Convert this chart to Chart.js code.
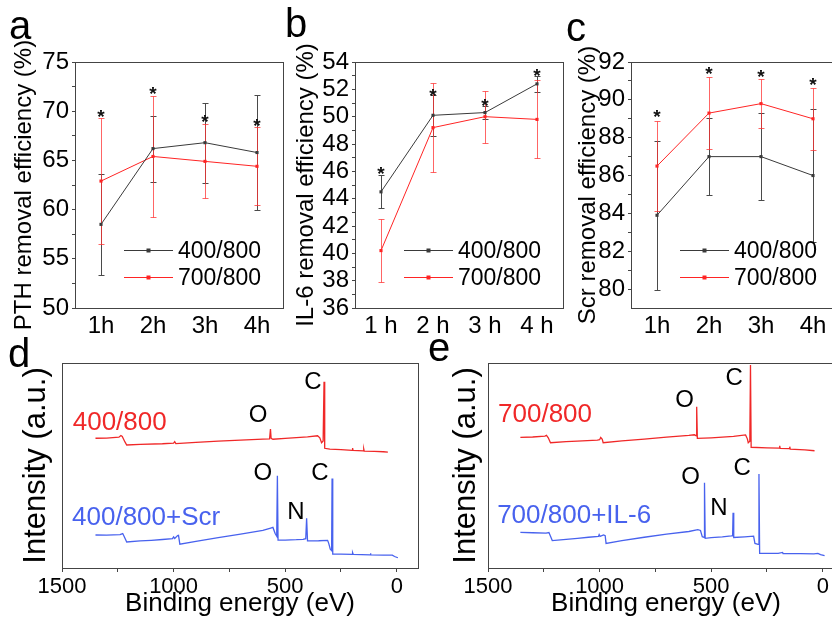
<!DOCTYPE html>
<html>
<head>
<meta charset="utf-8">
<script src="https://cdn.jsdelivr.net/npm/chart.js@4.4.0/dist/chart.umd.min.js"></script>
<style>
    html, body { margin: 0; padding: 0; background: #fff; overflow: hidden; }
    body { width: 832px; height: 619px; position: relative; font-family: 'Liberation Sans', Arial, sans-serif; }
    canvas { position: absolute; }
    .tag { position: absolute; font-size: 40px; line-height: 1; color: #000; }
</style>
</head>
<body>
<canvas id="chartA" width="290" height="340" style="left:0;top:0"></canvas>
<canvas id="chartB" width="290" height="340" style="left:280px;top:0"></canvas>
<canvas id="chartC" width="290" height="340" style="left:556px;top:0"></canvas>
<canvas id="chartD" width="420" height="289" style="left:0;top:330px"></canvas>
<canvas id="chartE" width="430" height="289" style="left:420px;top:330px"></canvas>
<div class="tag" style="left:9px;top:5px">a</div>
<div class="tag" style="left:285px;top:3px">b</div>
<div class="tag" style="left:566px;top:7px">c</div>
<div class="tag" style="left:8px;top:333px">d</div>
<div class="tag" style="left:428px;top:327px">e</div>
<script>
// --- datos de los paneles a-c ---
const hours = ['1h', '2h', '3h', '4h'];
const hoursSpaced = ['1 h', '2 h', '3 h', '4 h'];
const seriesNames = ['400/800', '700/800'];

const pth400 = [58.5, 66.2, 66.8, 65.8];
const pth400Err = [5.1, 3.35, 4.05, 5.85];
const pth700 = [62.9, 65.4, 64.9, 64.4];
const pth700Err = [6.4, 6.15, 3.75, 3.95];
const pthStars = [69.8, 72.2, 69.3, 68.9];
const pthTicks = [50, 55, 60, 65, 70, 75];

const il6400 = [44.5, 50.1, 50.3, 52.4];
const il6400Err = [1.2, 1.5, 0.5, 0.6];
const il6700 = [40.2, 49.2, 50.0, 49.8];
const il6700Err = [2.3, 3.25, 1.9, 2.85];
const il6Stars = [46.1, 51.8, 51.1, 53.3];
const il6Ticks = [36, 38, 40, 42, 44, 46, 48, 50, 52, 54];

const scr400 = [83.9, 87.0, 87.0, 86.0];
const scr400Err = [3.95, 2.05, 2.3, 3.5];
const scr700 = [86.5, 89.3, 89.8, 89.0];
const scr700Err = [2.4, 1.9, 1.3, 1.65];
const scrStars = [89.3, 91.6, 91.4, 91.0];
const scrTicks = [80, 82, 84, 86, 88, 90, 92];

// --- espectros XPS (energía de enlace eV, intensidad u.a.) ---
const d400 = [[1350,63.3],[1300,63.4],[1245,63.8],[1236,64.6],[1230,64.2],[1218,61.5],[1210,60.0],[1150,60.3],[1050,60.6],
    [1000,60.9],[995,61.6],[990,60.7],[900,61.3],[800,61.9],[700,62.4],[600,62.9],[570,63.0],[566,67.8],[563,63.2],[555,62.8],
    [500,63.2],[450,63.6],[400,64.0],[355,64.5],[345,63.5],[337,61.1],[330,62.0],[326,90.9],[323,58.4],[300,58.0],[250,57.7],
    [200,57.4],[198,58.5],[196,57.4],[150,57.1],[148,58.0],[146,57.0],[100,56.9],[60,56.7],[40,56.5]];
const d400Scr = [[1350,16.1],[1300,16.0],[1240,16.3],[1228,16.8],[1222,15.5],[1210,12.7],[1150,13.2],[1100,13.5],[1050,13.9],
    [1005,14.3],[1000,15.2],[995,14.4],[982,15.8],[978,15.9],[972,11.6],[900,13.0],[800,14.8],[700,16.5],[600,18.3],[565,19.5],
    [555,19.8],[545,16.8],[538,15.5],[535,45.0],[532,13.6],[500,13.6],[450,13.8],[420,14.0],[408,14.3],[404,24.2],[400,13.2],
    [350,13.3],[310,13.5],[305,12.0],[298,9.2],[292,8.5],[290,43.7],[287,6.8],[250,6.8],[200,6.6],[198,7.5],[195,6.6],[120,6.4],
    [118,7.2],[116,6.4],[60,6.3],[20,6.3],[10,5.6],[-5,5.0]];
const e700 = [[1355,63.7],[1300,63.9],[1245,64.3],[1238,64.7],[1230,63.5],[1220,61.1],[1150,61.6],[1100,61.9],[1010,62.4],
    [1000,62.6],[995,63.7],[988,62.8],[984,61.1],[900,62.0],[800,62.9],[700,63.8],[600,64.7],[575,65.0],[567,64.5],[565,78.7],
    [562,63.2],[500,63.5],[450,63.8],[400,64.2],[346,64.9],[338,63.0],[334,61.1],[327,61.8],[324,99.0],[321,58.9],[250,58.6],
    [195,58.5],[193,59.6],[191,58.4],[150,58.2],[148,59.2],[146,58.0],[80,57.6],[37,57.2]];
const e700IL6 = [[1355,17.4],[1300,17.2],[1240,17.0],[1227,17.3],[1220,15.5],[1212,13.4],[1150,14.0],[1099,14.5],[1050,15.0],
    [1005,15.4],[1002,16.3],[998,15.4],[982,16.1],[975,15.8],[971,12.0],[900,13.4],[800,15.0],[700,16.5],[600,17.8],[560,18.7],
    [548,18.3],[540,15.3],[532,15.0],[530,41.6],[527,14.5],[500,14.8],[450,15.2],[410,15.7],[404,15.8],[402,27.0],[399,14.9],
    [350,15.2],[310,15.5],[304,12.0],[290,11.5],[286,45.9],[283,7.1],[200,7.1],[180,7.6],[178,7.0],[100,7.0],[40,6.9],[22,7.1],
    [10,6.5],[-8,6.0]];
const energyTicks = [1500, 1250, 1000, 750, 500, 250, 0];

const FONT = "'Liberation Sans', Arial, sans-serif";
const BLACK = '#3a3a3a';
const RED = '#ff2424';
const XRED = 'rgb(240,40,40)';
const XBLUE = 'rgb(72,98,238)';
Chart.defaults.font.family = FONT;
Chart.defaults.color = '#000';

// marco del área de trazado
const frame = {
    id: 'frame',
    afterDraw(chart) {
        const { ctx, chartArea: a } = chart;
        ctx.save();
        ctx.strokeStyle = '#444';
        ctx.lineWidth = 1;
        ctx.strokeRect(Math.round(a.left) + 0.5, Math.round(a.top) + 0.5, Math.round(a.right - a.left), Math.round(a.bottom - a.top));
        ctx.restore();
    }
};

// barras de error
const errBars = {
    id: 'errBars',
    beforeDatasetsDraw(chart) {
        const { ctx, scales: { x, y } } = chart;
        chart.data.datasets.forEach((ds) => {
            if (!ds.errors) return;
            ctx.save();
            ctx.strokeStyle = ds.errColor;
            ctx.lineWidth = 1;
            ds.data.forEach((v, j) => {
                const px = Math.round(x.getPixelForValue(j)) + 0.5;
                const top = Math.round(y.getPixelForValue(v + ds.errors[j])) + 0.5;
                const bot = Math.round(y.getPixelForValue(v - ds.errors[j])) + 0.5;
                ctx.beginPath();
                ctx.moveTo(px, top); ctx.lineTo(px, bot);
                ctx.moveTo(px - 3, top); ctx.lineTo(px + 3, top);
                ctx.moveTo(px - 3, bot); ctx.lineTo(px + 3, bot);
                ctx.stroke();
            });
            ctx.restore();
        });
    }
};

// asteriscos de significancia
const stars = {
    id: 'stars',
    afterDatasetsDraw(chart, args, opts) {
        if (!opts.values) return;
        const { ctx, scales: { x, y } } = chart;
        ctx.save();
        ctx.fillStyle = '#111';
        ctx.font = 'bold 19px ' + FONT;
        ctx.textAlign = 'center';
        ctx.textBaseline = 'alphabetic';
        opts.values.forEach((v, j) => {
            ctx.fillText('*', x.getPixelForValue(j), y.getPixelForValue(v) + 10);
        });
        ctx.restore();
    }
};

// leyenda dentro del área
const innerLegend = {
    id: 'innerLegend',
    afterDraw(chart) {
        const { ctx, chartArea: a } = chart;
        const rows = [a.bottom - 58, a.bottom - 31];
        chart.data.datasets.forEach((ds, i) => {
            const yy = Math.round(rows[i]) + 0.5;
            const x0 = a.left + 49, x1 = a.left + 98;
            ctx.save();
            ctx.strokeStyle = ds.borderColor;
            ctx.lineWidth = 1;
            ctx.beginPath(); ctx.moveTo(x0, yy); ctx.lineTo(x1, yy); ctx.stroke();
            ctx.fillStyle = ds.borderColor;
            ctx.fillRect((x0 + x1) / 2 - 2, yy - 2, 4, 4);
            ctx.fillStyle = '#000';
            ctx.font = '23px ' + FONT;
            ctx.textBaseline = 'middle';
            ctx.fillText(ds.label, x1 + 5, yy + 1);
            ctx.restore();
        });
    }
};

// etiquetas de picos y de muestras
const peakLabels = {
    id: 'peakLabels',
    afterDatasetsDraw(chart, args, opts) {
        const { ctx, scales: { x, y } } = chart;
        (opts.items || []).forEach((it) => {
            ctx.save();
            ctx.font = it.size + 'px ' + FONT;
            ctx.fillStyle = it.color;
            ctx.textAlign = it.align || 'center';
            ctx.textBaseline = 'middle';
            ctx.fillText(it.text, x.getPixelForValue(it.x), y.getPixelForValue(it.y));
            ctx.restore();
        });
    }
};

function effChart(id, labels, s400, e400, s700, e700, starVals, yTicks, yMin, title, titlePad) {
    const step = (yTicks[1] - yTicks[0]) / 2;
    const allTicks = [];
    for (let k = 0; k <= (yTicks.length - 1) * 2; k++) allTicks.push(yTicks[0] + k * step);
    new Chart(document.getElementById(id), {
        type: 'line',
        data: {
            labels: labels,
            datasets: [
                { label: seriesNames[0], data: s400, errors: e400, errColor: '#4a4a4a', borderColor: BLACK, backgroundColor: BLACK,
                  borderWidth: 1, pointStyle: 'rect', pointRadius: 2.2, pointBorderWidth: 0 },
                { label: seriesNames[1], data: s700, errors: e700, errColor: 'rgba(255,50,50,0.75)', borderColor: RED, backgroundColor: RED,
                  borderWidth: 1, pointStyle: 'rect', pointRadius: 2.2, pointBorderWidth: 0 }
            ]
        },
        options: {
            responsive: false,
            animation: false,
            layout: { padding: { top: 62, right: 7, left: 0, bottom: 0 } },
            plugins: { legend: { display: false }, tooltip: { enabled: false }, stars: { values: starVals } },
            scales: {
                x: {
                    type: 'category', offset: true,
                    grid: { display: false, drawTicks: false }, border: { display: false },
                    ticks: { color: '#000', font: { size: 24 }, padding: 4 },
                    afterFit(s) { s.height = 32; }
                },
                y: {
                    min: yMin, max: yTicks[yTicks.length - 1],
                    afterBuildTicks(s) { s.ticks = allTicks.map(v => ({ value: v })); },
                    grid: { display: true, drawOnChartArea: false, tickLength: 3, color: '#444' }, border: { display: false },
                    ticks: { color: '#000', font: { size: 24 }, padding: 3, autoSkip: false,
                             callback: (v) => (yTicks.includes(v) ? String(v) : '') },
                    title: { display: true, text: title, color: '#000', font: { size: 24 }, padding: { top: titlePad, bottom: 0 } },
                    afterFit(s) { s.width = 75; }
                }
            }
        },
        plugins: [frame, errBars, stars, innerLegend]
    });
}

effChart('chartA', hours, pth400, pth400Err, pth700, pth700Err, pthStars, pthTicks, 50, 'PTH removal efficiency (%)', 10);
effChart('chartB', hoursSpaced, il6400, il6400Err, il6700, il6700Err, il6Stars, il6Ticks, 36, 'IL-6 removal efficiency (%)', 12);
effChart('chartC', hours, scr400, scr400Err, scr700, scr700Err, scrStars, scrTicks, 79, 'Scr removal efficiency (%)', 18);

function xpsChart(id, top, bottom, leftW, padRight, titlePad, labels) {
    new Chart(document.getElementById(id), {
        type: 'line',
        data: {
            datasets: [
                { data: top.map(([x, y]) => ({ x, y })), borderColor: XRED, borderWidth: 1.3, pointRadius: 0 },
                { data: bottom.map(([x, y]) => ({ x, y })), borderColor: XBLUE, borderWidth: 1.3, pointRadius: 0 }
            ]
        },
        options: {
            responsive: false,
            animation: false,
            layout: { padding: { top: 33, right: padRight, left: 0, bottom: 0 } },
            plugins: { legend: { display: false }, tooltip: { enabled: false }, peakLabels: { items: labels } },
            scales: {
                x: {
                    type: 'linear', reverse: true, min: -95, max: 1500,
                    afterBuildTicks(s) { s.ticks = energyTicks.map(v => ({ value: v })); },
                    grid: { display: true, drawOnChartArea: false, tickLength: 4, color: '#444' },
                    border: { display: false },
                    ticks: { color: '#000', font: { size: 22 }, padding: 2, autoSkip: false, maxRotation: 0,
                             callback: (v) => (v % 500 === 0 ? String(v) : '') },
                    title: { display: true, text: 'Binding energy (eV)', color: '#000', font: { size: 26 }, padding: { top: 0, bottom: 0 } },
                    afterFit(s) { s.height = 51; }
                },
                y: {
                    min: 0, max: 100,
                    grid: { display: false, drawTicks: false }, border: { display: false },
                    ticks: { display: false },
                    title: { display: true, text: 'Intensity (a.u.)', color: '#000', font: { size: 31 }, padding: { top: titlePad, bottom: 0 } },
                    afterFit(s) { s.width = leftW; }
                }
            }
        },
        plugins: [frame, peakLabels]
    });
}

xpsChart('chartD', d400, d400Scr, 62, 2, 18, [
    { text: '400/800', x: 1452, y: 70.7, size: 26, color: XRED, align: 'left' },
    { text: 'O', x: 622, y: 74.6, size: 24, color: '#000' },
    { text: 'C', x: 376, y: 90.7, size: 24, color: '#000' },
    { text: '400/800+Scr', x: 1455, y: 24.4, size: 26, color: XBLUE, align: 'left' },
    { text: 'O', x: 600, y: 46.3, size: 24, color: '#000' },
    { text: 'C', x: 345, y: 46.3, size: 24, color: '#000' },
    { text: 'N', x: 452, y: 27.3, size: 24, color: '#000' }
]);
xpsChart('chartE', e700, e700IL6, 68, 6, 28, [
    { text: '700/800', x: 1455, y: 74.5, size: 26, color: XRED, align: 'left' },
    { text: 'O', x: 619, y: 81.9, size: 24, color: '#000' },
    { text: 'C', x: 397, y: 92.6, size: 24, color: '#000' },
    { text: '700/800+IL-6', x: 1459, y: 25.5, size: 26, color: XBLUE, align: 'left' },
    { text: 'O', x: 592, y: 44.1, size: 24, color: '#000' },
    { text: 'C', x: 361, y: 48.5, size: 24, color: '#000' },
    { text: 'N', x: 465, y: 28.9, size: 24, color: '#000' }
]);
</script>
</body>
</html>
